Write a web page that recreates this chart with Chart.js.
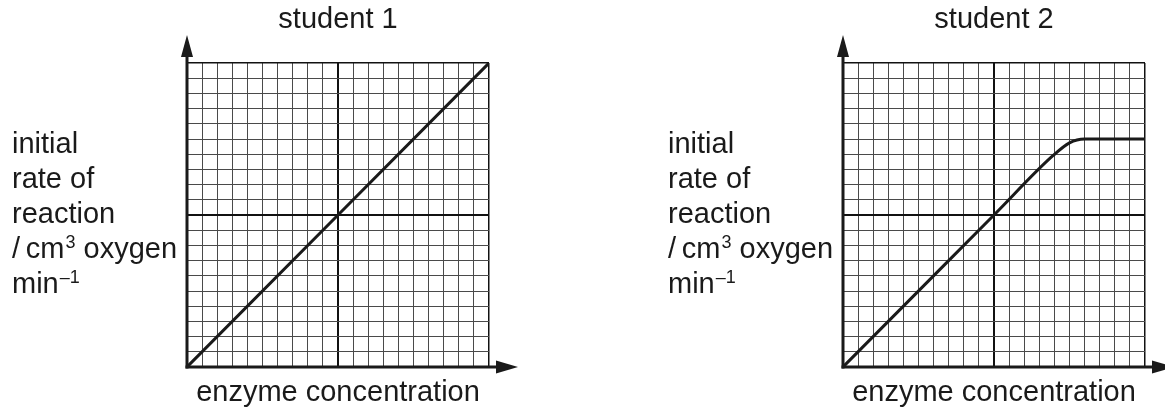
<!DOCTYPE html>
<html>
<head>
<meta charset="utf-8">
<script src="https://cdn.jsdelivr.net/npm/chart.js@4.4.1/dist/chart.umd.min.js"></script>
<style>
  html, body { margin: 0; padding: 0; background: #fff; }
  #wrap { position: relative; width: 1165px; height: 412px; overflow: hidden; }
  canvas { position: absolute; top: 0; }
  #c1 { left: 0; }
  #c2 { left: 656px; }
</style>
</head>
<body>
<div id="wrap">
  <canvas id="c1" width="656" height="412"></canvas>
  <canvas id="c2" width="509" height="412"></canvas>
</div>
<script>
// ---- data ----
const chartTitles = ["student 1", "student 2"];
const xAxisLabel = "enzyme concentration";
const yAxisLines = ["initial", "rate of", "reaction"];
const axisMin = 0;
const axisMax = 20;
const majorEvery = 10;
const student1X = [0, 20];
const student1Y = [0, 20];
const student2X = [0, 10, 13.9, 15.0, 16.0, 20];
const student2Y = [0, 10, 13.9, 14.75, 15.0, 15.0];

const FONT = "'Liberation Sans', Arial, Helvetica, sans-serif";
const INK = '#1a1a1a';

function toPoints(xs, ys) { return xs.map((x, i) => ({ x: x, y: ys[i] })); }

const decorPlugin = {
  id: 'decor',
  afterDraw(chart, args, opts) {
    const ctx = chart.ctx;
    const a = chart.chartArea;
    ctx.save();
    // arrows
    ctx.fillStyle = INK;
    ctx.strokeStyle = INK;
    ctx.lineWidth = 3;
    ctx.lineCap = 'butt';
    ctx.beginPath();
    ctx.moveTo(a.left, a.bottom + 1.5);
    ctx.lineTo(a.left, a.top - 10);
    ctx.stroke();
    ctx.beginPath();
    ctx.moveTo(a.left, a.top - 28);
    ctx.lineTo(a.left - 6, a.top - 6);
    ctx.lineTo(a.left + 6, a.top - 6);
    ctx.closePath();
    ctx.fill();
    ctx.beginPath();
    ctx.moveTo(a.left - 1.5, a.bottom);
    ctx.lineTo(a.right + 10, a.bottom);
    ctx.stroke();
    ctx.beginPath();
    ctx.moveTo(a.right + 29, a.bottom);
    ctx.lineTo(a.right + 7, a.bottom - 6.5);
    ctx.lineTo(a.right + 7, a.bottom + 6.5);
    ctx.closePath();
    ctx.fill();

    // texts
    const cx = (a.left + a.right) / 2;
    const big = '29px ' + FONT, small = '18px ' + FONT;
    ctx.fillStyle = INK;
    ctx.textBaseline = 'alphabetic';
    ctx.font = big;
    ctx.textAlign = 'center';
    ctx.fillText(opts.title, cx, 28);
    ctx.fillText(xAxisLabel, cx, 401);

    ctx.textAlign = 'left';
    const lx = 12;
    const base0 = 153;
    const step = 35;
    yAxisLines.forEach((t, i) => ctx.fillText(t, lx, base0 + i * step));
    let y4 = base0 + 3 * step;
    let x = lx;
    ctx.fillText('/\u2009cm', x, y4); x += ctx.measureText('/\u2009cm').width + 1;
    ctx.font = small;
    ctx.fillText('3', x, y4 - 10); x += ctx.measureText('3').width;
    ctx.font = big;
    ctx.fillText(' oxygen', x, y4);
    let y5 = base0 + 4 * step;
    x = lx;
    ctx.fillText('min', x, y5); x += ctx.measureText('min').width + 1;
    ctx.font = small;
    ctx.fillText('\u20131', x, y5 - 10);
    ctx.restore();
  }
};

function gridColor(c) {
  const v = c.tick ? c.tick.value : 0;
  return (v % majorEvery === 0) ? '#111' : '#4a4a4a';
}
function gridWidth(c) {
  const v = c.tick ? c.tick.value : 0;
  if (v === axisMax) return 1.5;
  return (v % majorEvery === 0) ? 2 : 1;
}

function makeChart(id, title, xs, ys, rightPad) {
  return new Chart(document.getElementById(id), {
    type: 'scatter',
    data: {
      datasets: [{
        data: toPoints(xs, ys),
        showLine: true,
        borderColor: INK,
        borderWidth: 3,
        pointRadius: 0,
        cubicInterpolationMode: 'monotone',
        fill: false
      }]
    },
    options: {
      responsive: false,
      animation: false,
      devicePixelRatio: 1,
      layout: { padding: { left: 187, top: 63, right: rightPad, bottom: 45 } },
      plugins: {
        legend: { display: false },
        tooltip: { enabled: false },
        title: { display: false },
        decor: { title: title }
      },
      scales: {
        x: {
          type: 'linear', min: axisMin, max: axisMax,
          ticks: { display: false, stepSize: 1 },
          grid: { color: gridColor, lineWidth: gridWidth, drawTicks: false },
          border: { display: false }
        },
        y: {
          type: 'linear', min: axisMin, max: axisMax,
          ticks: { display: false, stepSize: 1 },
          grid: { color: gridColor, lineWidth: gridWidth, drawTicks: false },
          border: { display: false }
        }
      }
    },
    plugins: [decorPlugin]
  });
}

makeChart('c1', chartTitles[0], student1X, student1Y, 167);
makeChart('c2', chartTitles[1], student2X, student2Y, 20);
</script>
</body>
</html>
